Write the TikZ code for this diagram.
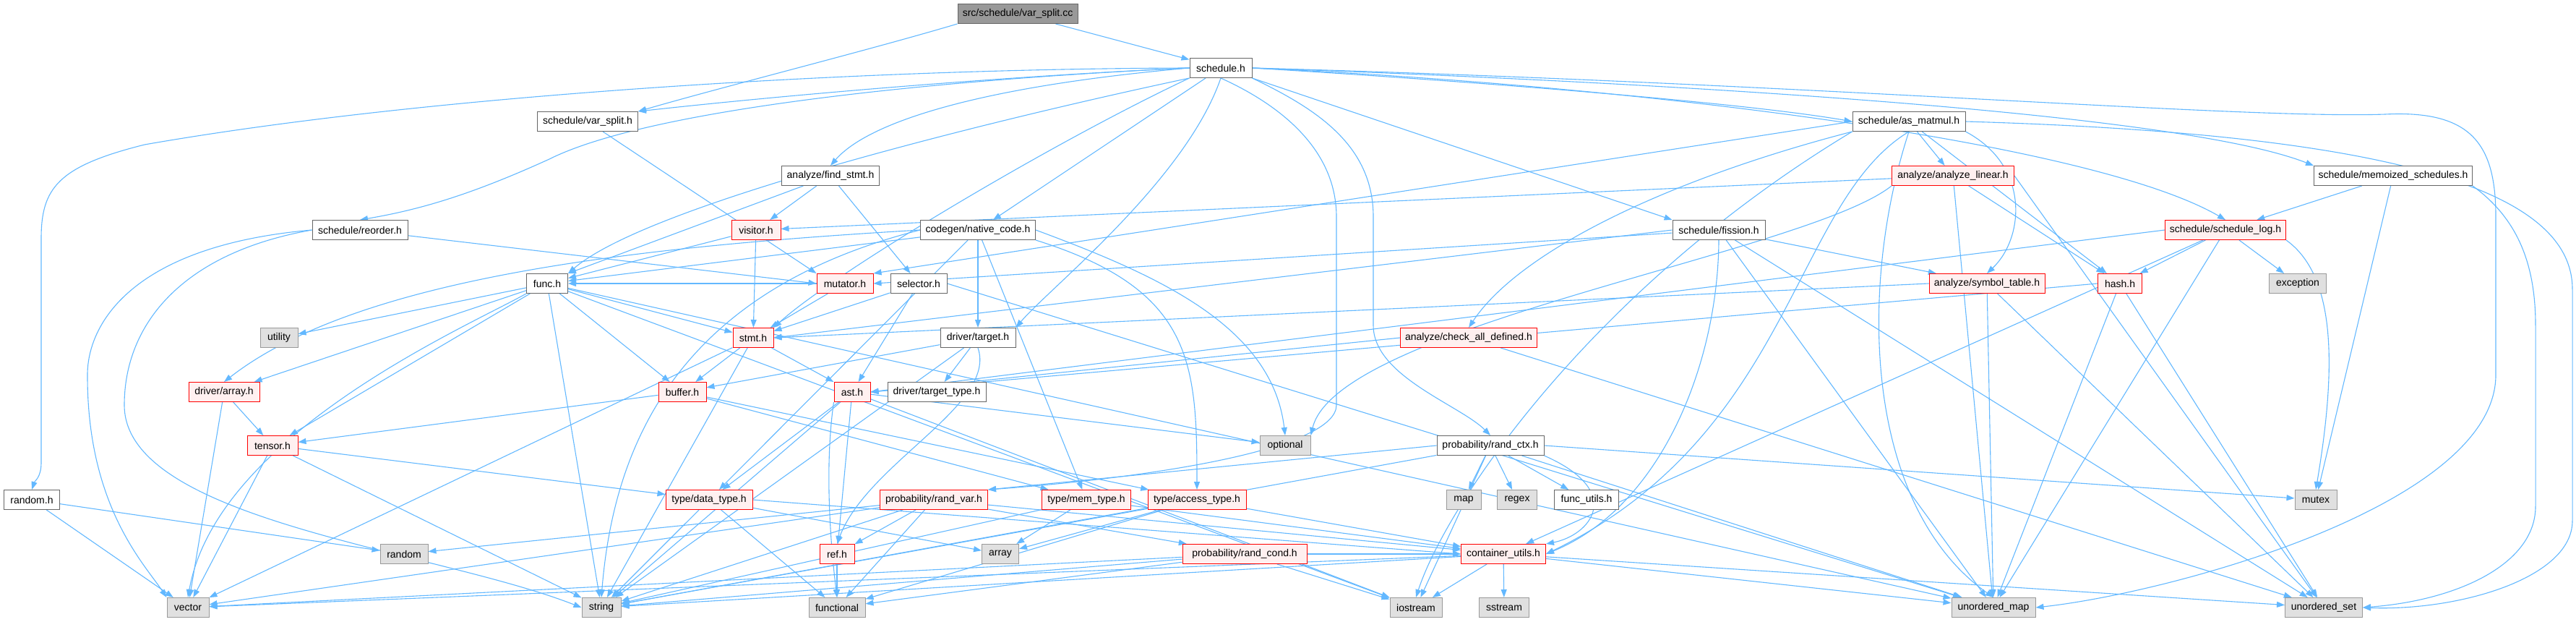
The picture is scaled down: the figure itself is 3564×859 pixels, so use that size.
\documentclass[tikz,border=0pt]{standalone}
\usepackage{fontspec}
\setmainfont{Liberation Sans}
\usetikzlibrary{arrows.meta}
\definecolor{edgec}{HTML}{63B8FF}
\definecolor{wborder}{HTML}{666666}
\definecolor{gborder}{HTML}{999999}
\definecolor{gfill}{HTML}{E0E0E0}
\definecolor{rfill}{HTML}{FFF0F0}
\definecolor{rootfill}{HTML}{999999}
\pgfdeclarelayer{bg}
\pgfsetlayers{bg,main}
\begin{document}
\begin{tikzpicture}[x=1pt,y=-1pt,
  nd/.style={draw, minimum height=27pt, inner sep=0pt, line width=1pt,
    font=\fontsize{14}{16}\selectfont},
  wn/.style={nd, fill=white, draw=wborder},
  rn/.style={nd, fill=rfill, draw=red},
  gn/.style={nd, fill=gfill, draw=gborder},
  e/.style={draw=edgec, line width=1.1pt, -{Triangle[length=11pt,width=8pt]}}]
\useasboundingbox (0,0) rectangle (3564,859);
% nodes
\node[wn, fill=rootfill, minimum width=166pt] (cc) at (1408,19) {src/schedule/var\_split.cc};
\node[wn, minimum width=86pt] (sched) at (1689,94) {schedule.h};
\node[wn, minimum width=139pt] (vsplit) at (813,168) {schedule/var\_split.h};
\node[wn, minimum width=156pt] (asmat) at (2641,168) {schedule/as\_matmul.h};
\node[wn, minimum width=132pt] (reorder) at (498,318) {schedule/reorder.h};
\node[wn, minimum width=135pt] (findst) at (1149,243) {analyze/find\_stmt.h};
\node[rn, minimum width=169pt] (alinear) at (2702,243) {analyze/analyze\_linear.h};
\node[wn, minimum width=219pt] (memo) at (3311,243) {schedule/memoized\_schedules.h};
\node[rn, minimum width=68pt] (visitor) at (1046,318) {visitor.h};
\node[wn, minimum width=159pt] (native) at (1353,318) {codegen/native\_code.h};
\node[wn, minimum width=128pt] (fission) at (2378,318) {schedule/fission.h};
\node[rn, minimum width=167pt] (slog) at (3079,318) {schedule/schedule\_log.h};
\node[wn, minimum width=57pt] (func) at (757,392) {func.h};
\node[rn, minimum width=78pt] (mutator) at (1169,392) {mutator.h};
\node[wn, minimum width=78pt] (selector) at (1271,392) {selector.h};
\node[rn, minimum width=160pt] (symtab) at (2749,392) {analyze/symbol\_table.h};
\node[rn, minimum width=61pt] (hash) at (2933,392) {hash.h};
\node[gn, minimum width=79pt] (exception) at (3179,392) {exception};
\node[gn, minimum width=52pt] (utility) at (386,467) {utility};
\node[rn, minimum width=56pt] (stmt) at (1042,467) {stmt.h};
\node[wn, minimum width=104pt] (target) at (1353,467) {driver/target.h};
\node[rn, minimum width=189pt] (checkall) at (2032,467) {analyze/check\_all\_defined.h};
\node[rn, minimum width=98pt] (darray) at (310,542) {driver/array.h};
\node[rn, minimum width=66pt] (buffer) at (944,542) {buffer.h};
\node[rn, minimum width=50pt] (ast) at (1179,542) {ast.h};
\node[wn, minimum width=136pt] (ttype) at (1296,542) {driver/target\_type.h};
\node[rn, minimum width=70pt] (tensor) at (377,616) {tensor.h};
\node[gn, minimum width=70pt] (optional) at (1778,616) {optional};
\node[wn, minimum width=148pt] (randctx) at (2062,616) {probability/rand\_ctx.h};
\node[wn, minimum width=77pt] (randomh) at (44,691) {random.h};
\node[rn, minimum width=120pt] (dtype) at (981,691) {type/data\_type.h};
\node[rn, minimum width=149pt] (randvar) at (1292,691) {probability/rand\_var.h};
\node[rn, minimum width=123pt] (memtype) at (1503,691) {type/mem\_type.h};
\node[rn, minimum width=136pt] (acctype) at (1656,691) {type/access\_type.h};
\node[gn, minimum width=48pt] (map) at (2025,691) {map};
\node[gn, minimum width=55pt] (regex) at (2099,691) {regex};
\node[wn, minimum width=89pt] (futils) at (2195,691) {func\_utils.h};
\node[gn, minimum width=58pt] (mutex) at (3204,691) {mutex};
\node[gn, minimum width=66pt] (random) at (559,766) {random};
\node[rn, minimum width=48pt] (refh) at (1158,766) {ref.h};
\node[gn, minimum width=51pt] (arr) at (1384,766) {array};
\node[rn, minimum width=172pt] (randcond) at (1722,766) {probability/rand\_cond.h};
\node[rn, minimum width=117pt] (cutils) at (2080,766) {container\_utils.h};
\node[gn, minimum width=58pt] (vector) at (260,840) {vector};
\node[gn, minimum width=54pt] (string) at (832,840) {string};
\node[gn, minimum width=78pt] (functional) at (1158,840) {functional};
\node[gn, minimum width=72pt] (iostream) at (1959,840) {iostream};
\node[gn, minimum width=69pt] (sstream) at (2081,840) {sstream};
\node[gn, minimum width=116pt] (umap) at (2758,840) {unordered\_map};
\node[gn, minimum width=107pt] (uset) at (3215,840) {unordered\_set};
% edges
\begin{pgfonlayer}{bg}
% root
\draw[e] (cc) -- (sched);
\draw[e] (cc.south west) .. controls (1200,70) and (1000,120) .. (vsplit.north east);
% schedule.h
\draw[e] (sched.west) .. controls (1400,105) and (1100,130) .. (vsplit.north east);
\draw[e] (sched.west) .. controls (1200,95) and (600,130) .. (200,200) .. controls (80,230) and (57,260) .. (57,330) -- (57,640) .. controls (57,660) and (48,665) .. (randomh.north);
\draw[e] (sched.west) .. controls (1300,110) and (900,150) .. (760,220) .. controls (650,270) and (580,290) .. (reorder.north);
\draw[e] (sched.south west) .. controls (1400,160) and (900,280) .. (func.north east);
\draw[e] (sched.west) .. controls (1350,120) and (1200,170) .. (findst.north);
\draw[e] (sched) -- (native);
\draw[e] (sched.south west) .. controls (1450,200) and (1150,380) .. (stmt.north east);
\draw[e] (sched.south) .. controls (1640,250) and (1450,400) .. (target.north east);
\draw[e] (sched.east) .. controls (2000,110) and (2400,140) .. (asmat.west);
\draw[e] (sched.south east) -- (fission.north west);
\draw[e] (sched.east) .. controls (2200,110) and (3000,150) .. (memo.north west);
\draw[e] (sched.east) .. controls (2300,120) and (2900,200) .. (slog.north);
\draw[e] (sched.south east) .. controls (1820,150) and (1900,200) .. (1900,300) -- (1900,450) .. controls (1900,520) and (2020,560) .. (randctx.north);
\draw[e] (sched.south) .. controls (1760,140) and (1849,200) .. (1849,300) -- (1849,560) .. controls (1849,620) and (1600,660) .. (randvar.north east);
\draw[e] (sched.east) .. controls (2500,115) and (3100,165) .. (3300,158) .. controls (3420,152) and (3453,200) .. (3453,300) -- (3453,520) .. controls (3450,700) and (3000,820) .. (umap.east);
% var_split.h, reorder.h
\draw[e] (vsplit) -- (mutator.north west);
\draw[e] (reorder) -- (mutator.west);
\draw[e] (reorder.west) .. controls (180,340) and (120,450) .. (121,520) .. controls (121,700) and (200,780) .. (vector.north west);
\draw[e] (reorder.west) .. controls (250,350) and (172,450) .. (172,560) .. controls (172,720) and (600,760) .. (string.west);
% find_stmt.h, visitor.h, mutator.h, selector.h
\draw[e] (findst) -- (func.north east);
\draw[e] (findst) -- (visitor);
\draw[e] (findst) -- (selector);
\draw[e] (visitor) -- (stmt);
\draw[e] (visitor) -- (func);
\draw[e] (mutator) -- (stmt);
\draw[e] (mutator) -- (func);
\draw[e] (selector) -- (stmt);
\draw[e] (selector) -- (ast);
\draw[e] (selector.east) -- (umap);
% native_code.h
\draw[e] (native) -- (func);
\draw[e] (native.west) .. controls (900,340) and (500,380) .. (darray.north);
\draw[e] (native) -- (target);
\draw[e] (native) -- (memtype);
\draw[e] (native.south east) .. controls (1650,400) and (1656,500) .. (acctype.north);
\draw[e] (native.east) .. controls (1600,380) and (1760,450) .. (optional.north);
\draw[e] (native) -- (dtype);
\draw[e] (native.west) .. controls (950,400) and (850,600) .. (string.north);
% schedule passes
\draw[e] (fission) -- (mutator.east);
\draw[e] (fission) -- (symtab);
\draw[e] (fission.south) .. controls (2377,500) and (2300,700) .. (cutils.east);
\draw[e] (fission) -- (umap);
\draw[e] (fission) -- (uset);
\draw[e] (fission.west) -- (stmt.east);
\draw[e] (asmat) -- (alinear);
\draw[e] (asmat.south east) .. controls (2810,230) and (2800,330) .. (symtab.north);
\draw[e] (asmat) -- (hash);
\draw[e] (asmat.south west) .. controls (2300,250) and (2100,350) .. (checkall.north);
\draw[e] (asmat.west) -- (mutator.north east);
\draw[e] (asmat.south) .. controls (2480,280) and (2480,600) .. (cutils.east);
\draw[e] (asmat.south) .. controls (2570,400) and (2580,700) .. (umap.north);
\draw[e] (asmat.east) .. controls (3300,185) and (3559,260) .. (3559,400) -- (3559,720) .. controls (3559,800) and (3400,845) .. (uset.east);
\draw[e] (asmat.south west) .. controls (2200,400) and (2000,700) .. (iostream.north);
\draw[e] (alinear) -- (visitor);
\draw[e] (alinear) -- (hash);
\draw[e] (alinear.south west) .. controls (2500,350) and (1850,450) .. (optional.north east);
\draw[e] (alinear) -- (umap);
\draw[e] (alinear.east) -- (uset);
\draw[e] (symtab.west) -- (stmt.east);
\draw[e] (symtab) -- (umap);
\draw[e] (symtab) -- (uset);
\draw[e] (slog) -- (hash);
\draw[e] (slog) -- (exception);
\draw[e] (slog.south east) .. controls (3230,380) and (3234,500) .. (mutex.north);
\draw[e] (slog) -- (cutils);
\draw[e] (slog.west) -- (ast.east);
\draw[e] (slog) -- (umap);
\draw[e] (memo) -- (slog);
\draw[e] (memo) -- (mutex);
\draw[e] (memo.south east) .. controls (3480,300) and (3508,360) .. (3508,450) -- (3508,700) .. controls (3508,780) and (3400,830) .. (uset.east);
\draw[e] (hash.west) -- (ast.east);
\draw[e] (hash) -- (umap);
\draw[e] (hash) -- (uset);
\draw[e] (checkall.west) -- (ast.east);
\draw[e] (checkall) -- (uset);
% core
\draw[e] (target) -- (ttype);
\draw[e] (target.south) .. controls (1380,560) and (1200,640) .. (refh.north);
\draw[e] (target) -- (buffer);
\draw[e] (target) -- (string);
\draw[e] (func) -- (utility);
\draw[e] (func) -- (darray);
\draw[e] (func) -- (tensor);
\draw[e] (func.south west) .. controls (650,450) and (300,600) .. (vector.north);
\draw[e] (func) -- (string);
\draw[e] (func) -- (stmt);
\draw[e] (func) -- (buffer);
\draw[e] (func) -- (iostream);
\draw[e] (func) -- (umap);
\draw[e] (stmt) -- (ast);
\draw[e] (stmt) -- (buffer);
\draw[e] (stmt) -- (string);
\draw[e] (stmt) -- (vector);
\draw[e] (buffer) -- (tensor);
\draw[e] (buffer) -- (acctype);
\draw[e] (buffer) -- (memtype);
\draw[e] (ast) -- (refh);
\draw[e] (ast.south west) .. controls (1140,650) and (1150,760) .. (functional.north);
\draw[e] (ast) -- (dtype);
\draw[e] (ast) -- (optional);
\draw[e] (ast) -- (string);
\draw[e] (ast) -- (iostream);
\draw[e] (tensor) -- (dtype);
\draw[e] (tensor) -- (vector);
\draw[e] (tensor) -- (string);
\draw[e] (darray) -- (tensor);
\draw[e] (darray) -- (vector);
\draw[e] (randomh) -- (random);
\draw[e] (randomh) -- (vector);
\draw[e] (randctx) -- (map);
\draw[e] (randctx) -- (regex);
\draw[e] (randctx) -- (futils);
\draw[e] (randctx.east) -- (mutex);
\draw[e] (randctx.south east) .. controls (2250,680) and (2200,740) .. (cutils.north east);
\draw[e] (randctx.west) -- (randvar.north east);
\draw[e] (randctx) -- (umap);
\draw[e] (randctx) -- (iostream);
\draw[e] (randctx) -- (string);
\draw[e] (dtype) -- (functional);
\draw[e] (dtype) -- (arr);
\draw[e] (dtype.east) -- (cutils.west);
\draw[e] (dtype) -- (string);
\draw[e] (randvar) -- (random);
\draw[e] (randvar) -- (refh);
\draw[e] (randvar) -- (functional);
\draw[e] (randvar) -- (randcond);
\draw[e] (randvar) -- (cutils);
\draw[e] (randvar) -- (string);
\draw[e] (randvar) -- (vector);
\draw[e] (memtype) -- (arr);
\draw[e] (memtype) -- (string);
\draw[e] (memtype) -- (cutils);
\draw[e] (acctype) -- (arr);
\draw[e] (acctype) -- (string);
\draw[e] (acctype) -- (cutils);
\draw[e] (acctype) -- (functional);
\draw[e] (randcond) -- (functional);
\draw[e] (randcond) -- (string);
\draw[e] (randcond) -- (vector);
\draw[e] (randcond) -- (iostream);
\draw[e] (randcond) -- (cutils);
\draw[e] (refh) -- (functional);
\draw[e] (cutils) -- (iostream);
\draw[e] (cutils) -- (sstream);
\draw[e] (cutils) -- (vector);
\draw[e] (cutils) -- (string);
\draw[e] (cutils) -- (umap);
\draw[e] (cutils) -- (uset);
\end{pgfonlayer}
\end{tikzpicture}
\end{document}
